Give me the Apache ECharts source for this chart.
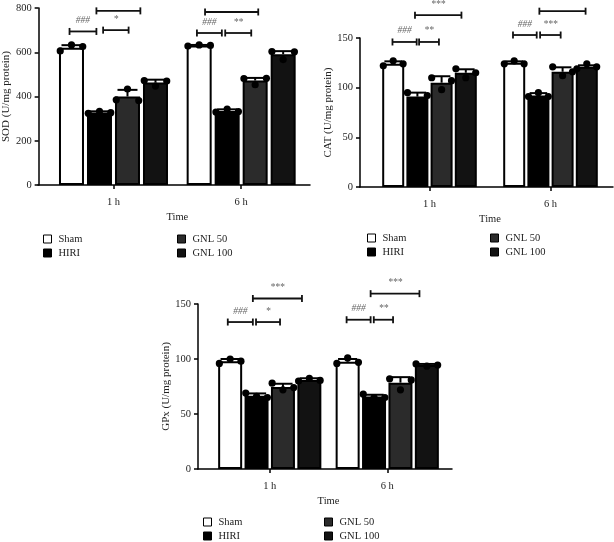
<!DOCTYPE html>
<html>
<head>
<meta charset="utf-8">
<script src="https://cdn.jsdelivr.net/npm/echarts@6/dist/echarts.min.js"></script>
<style>
  html, body { margin: 0; padding: 0; background: #fff; }
  #main { width: 614px; height: 542px; }
</style>
</head>
<body>
<div id="main"></div>
<script>
var times = ['1 h', '6 h'];
var groups = ['Sham', 'HIRI', 'GNL 50', 'GNL 100'];
var groupColors = ['#ffffff', '#000000', '#2b2b2b', '#121212'];

// rows = groups, cols = times
var sodMean = [[620, 630], [328, 335], [400, 472], [463, 591]];
var sodSd = [[12, 3], [5, 7], [30, 12], [13, 14]];
var sodPts = [
  [[606, 633, 626], [628, 633, 631]],
  [[324, 333, 327], [330, 343, 332]],
  [[385, 434, 382], [481, 453, 482]],
  [[472, 447, 470], [603, 567, 602]]
];
// [time, from bar, to bar, y, label]
var sodSig = [
  [0, -0.07, 0.89, 694, '###'], [0, 1.13, 2.04, 700, '*'], [0, 0.89, 2.46, 787, '***'],
  [1, -0.08, 0.81, 687, '###'], [1, 0.93, 1.86, 687, '**'], [1, 0.21, 2.11, 782, '***']
];

var catMean = [[124, 125], [91, 92], [105, 116], [115, 121]];
var catSd = [[2.5, 1.5], [4, 2.5], [6.5, 4.5], [3.5, 1.5]];
var catPts = [
  [[122, 127, 124], [124, 127, 124]],
  [[95, 87, 92], [91, 95, 91]],
  [[110, 98, 107], [121, 112, 116]],
  [[119, 110, 115], [119, 124, 121]]
];
var catSig = [
  [0, -0.03, 0.97, 146, '###'], [0, 1.07, 1.89, 146, '**'], [0, 0.9, 2.82, 173, '***'],
  [1, -0.05, 0.93, 153, '###'], [1, 1.07, 1.92, 153, '***'], [1, 1.04, 2.95, 177, '***']
];

var gpxMean = [[98, 97.5], [66.7, 66], [74.5, 78.5], [81, 94.5]];
var gpxSd = [[2, 2.5], [2, 1.5], [3, 5], [1.5, 1]];
var gpxPts = [
  [[96, 100, 98], [96, 101, 97]],
  [[69, 66, 65], [68, 65, 65]],
  [[78, 72, 74], [82, 72, 81]],
  [[80, 82.5, 80.5], [95.5, 93.5, 94.5]]
];
var gpxSig = [
  [0, -0.09, 0.86, 133.6, '###'], [0, 0.98, 1.89, 133.6, '*'], [0, 0.86, 2.72, 155, '***'],
  [1, -0.04, 0.87, 135.7, '###'], [1, 0.99, 1.72, 135.7, '**'], [1, 0.87, 2.72, 159.4, '***']
];

var FONT = 'Liberation Serif';

// layout of the three panels
var panels = [
  { title: 'SOD (U/mg protein)', max: 800, interval: 200, mean: sodMean, sd: sodSd, pts: sodPts, sig: sodSig,
    axisX: 38, left: 49, right: 305, lineEnd: 310, top: 8, bottom: 185, barW: 25, gap: 0.12, nameGap: 25,
    legendTop: 233, legendLeft: [43, 177] },
  { title: 'CAT (U/mg protein)', max: 150, interval: 50, mean: catMean, sd: catSd, pts: catPts, sig: catSig,
    axisX: 360, left: 369, right: 611, lineEnd: 613, top: 38, bottom: 187, barW: 22, gap: 0.1, nameGap: 19,
    legendTop: 232, legendLeft: [367, 490] },
  { title: 'GPx (U/mg protein)', max: 150, interval: 50, mean: gpxMean, sd: gpxSd, pts: gpxPts, sig: gpxSig,
    axisX: 198, left: 211, right: 446, lineEnd: 452, top: 304, bottom: 469, barW: 24, gap: 0.1, nameGap: 25,
    legendTop: 516, legendLeft: [203, 324] }
];

function barX(api, p, t, k) {
  return api.coord([t, 0])[0] + (k - 1.5) * p.barW * (1 + p.gap);
}

var grid = [], xAxis = [], yAxis = [], series = [], legend = [];

panels.forEach(function (p, i) {
  var gi = i * 2;
  grid.push({ left: p.left, top: p.top, width: p.right - p.left, height: p.bottom - p.top });
  grid.push({ left: p.axisX, top: p.top, width: p.lineEnd - p.axisX, height: p.bottom - p.top });

  xAxis.push({
    type: 'category', gridIndex: gi, data: times,
    axisLine: { show: false },
    axisTick: { show: true, alignWithLabel: true, length: 4, lineStyle: { color: '#000', width: 1.5 } },
    axisLabel: { fontFamily: FONT, fontSize: 10.5, color: '#222', margin: 12 },
    name: 'Time', nameLocation: 'middle', nameGap: 27,
    nameTextStyle: { fontFamily: FONT, fontSize: 10.5, color: '#222' }
  });
  xAxis.push({
    type: 'category', gridIndex: gi + 1, data: times,
    axisLine: { lineStyle: { color: '#000', width: 1.5 } },
    axisTick: { show: false }, axisLabel: { show: false }
  });

  yAxis.push({
    type: 'value', gridIndex: gi, min: 0, max: p.max, interval: p.interval,
    offset: p.left - p.axisX,
    axisLine: { show: true, lineStyle: { color: '#000', width: 1.5 } },
    axisTick: { show: true, length: 4, lineStyle: { color: '#000', width: 1.5 } },
    axisLabel: { fontFamily: FONT, fontSize: 10.5, color: '#222', margin: 7 },
    splitLine: { show: false },
    name: p.title, nameLocation: 'middle', nameGap: p.nameGap,
    nameTextStyle: { fontFamily: FONT, fontSize: 11, color: '#222' }
  });
  yAxis.push({ type: 'value', gridIndex: gi + 1, min: 0, max: 1, show: false });

  groups.forEach(function (g, k) {
    series.push({
      type: 'bar', name: g, xAxisIndex: gi, yAxisIndex: gi,
      data: p.mean[k], barWidth: p.barW, barGap: (p.gap * 100) + '%',
      itemStyle: { color: groupColors[k], borderColor: '#000', borderWidth: 2 },
      z: 2
    });
  });

  // error bars (mean + SD)
  var errs = [];
  groups.forEach(function (g, k) {
    times.forEach(function (tm, t) { errs.push([t, k, p.mean[k][t], p.sd[k][t]]); });
  });
  series.push({
    type: 'custom', xAxisIndex: gi, yAxisIndex: gi, z: 3, silent: true,
    data: errs.map(function (e) { return [e[0], e[2] + e[3]]; }),
    renderItem: function (params, api) {
      var e = errs[params.dataIndex];
      var x = barX(api, p, e[0], e[1]);
      var y0 = api.coord([e[0], e[2]])[1];
      var y1 = api.coord([e[0], e[2] + e[3]])[1];
      var c = p.barW * 0.4;
      var st = { stroke: '#000', lineWidth: 2 };
      return { type: 'group', children: [
        { type: 'line', shape: { x1: x, y1: y0, x2: x, y2: y1 }, style: st },
        { type: 'line', shape: { x1: x - c, y1: y1, x2: x + c, y2: y1 }, style: st }
      ] };
    }
  });

  // individual points
  var dots = [];
  groups.forEach(function (g, k) {
    times.forEach(function (tm, t) {
      p.pts[k][t].forEach(function (v, j) { dots.push([t, k, v, j]); });
    });
  });
  series.push({
    type: 'custom', xAxisIndex: gi, yAxisIndex: gi, z: 4, silent: true,
    data: dots.map(function (d) { return [d[0], d[2]]; }),
    renderItem: function (params, api) {
      var d = dots[params.dataIndex];
      var x = barX(api, p, d[0], d[1]) + (d[3] - 1) * 0.45 * p.barW;
      var y = api.coord([d[0], d[2]])[1];
      return { type: 'circle', shape: { cx: x, cy: y, r: 3.6 }, style: { fill: '#000' } };
    }
  });

  // significance brackets
  series.push({
    type: 'custom', xAxisIndex: gi, yAxisIndex: gi, z: 5, silent: true, clip: false,
    data: p.sig.map(function (s) { return [s[0], s[3]]; }),
    renderItem: function (params, api) {
      var s = p.sig[params.dataIndex];
      var x1 = barX(api, p, s[0], s[1]);
      var x2 = barX(api, p, s[0], s[2]);
      var y = api.coord([s[0], s[3]])[1];
      var st = { stroke: '#111', lineWidth: 1.8 };
      return { type: 'group', children: [
        { type: 'line', shape: { x1: x1, y1: y, x2: x2, y2: y }, style: st },
        { type: 'line', shape: { x1: x1, y1: y - 3.5, x2: x1, y2: y + 3.5 }, style: st },
        { type: 'line', shape: { x1: x2, y1: y - 3.5, x2: x2, y2: y + 3.5 }, style: st },
        { type: 'text', x: (x1 + x2) / 2, y: y - 6,
          style: { text: s[4], fill: '#666', font: 'italic 9.5px "Liberation Serif"', textAlign: 'center', textVerticalAlign: 'bottom' } }
      ] };
    }
  });

  [[groups[0], groups[1]], [groups[2], groups[3]]].forEach(function (names, c) {
    legend.push({
      data: names, orient: 'vertical', left: p.legendLeft[c], top: p.legendTop,
      padding: 0, itemGap: 2, itemWidth: 8, itemHeight: 8, icon: 'rect', selectedMode: false,
      itemStyle: { borderColor: '#000', borderWidth: 1 },
      textStyle: { fontFamily: FONT, fontSize: 10.5, color: '#222', lineHeight: 12, padding: [0, 0, 0, 2] }
    });
  });
});

var chart = echarts.init(document.getElementById('main'));
chart.setOption({
  animation: false,
  backgroundColor: '#fff',
  grid: grid, xAxis: xAxis, yAxis: yAxis, legend: legend, series: series
});
window.addEventListener('resize', function () { chart.resize(); });
</script>
</body>
</html>
